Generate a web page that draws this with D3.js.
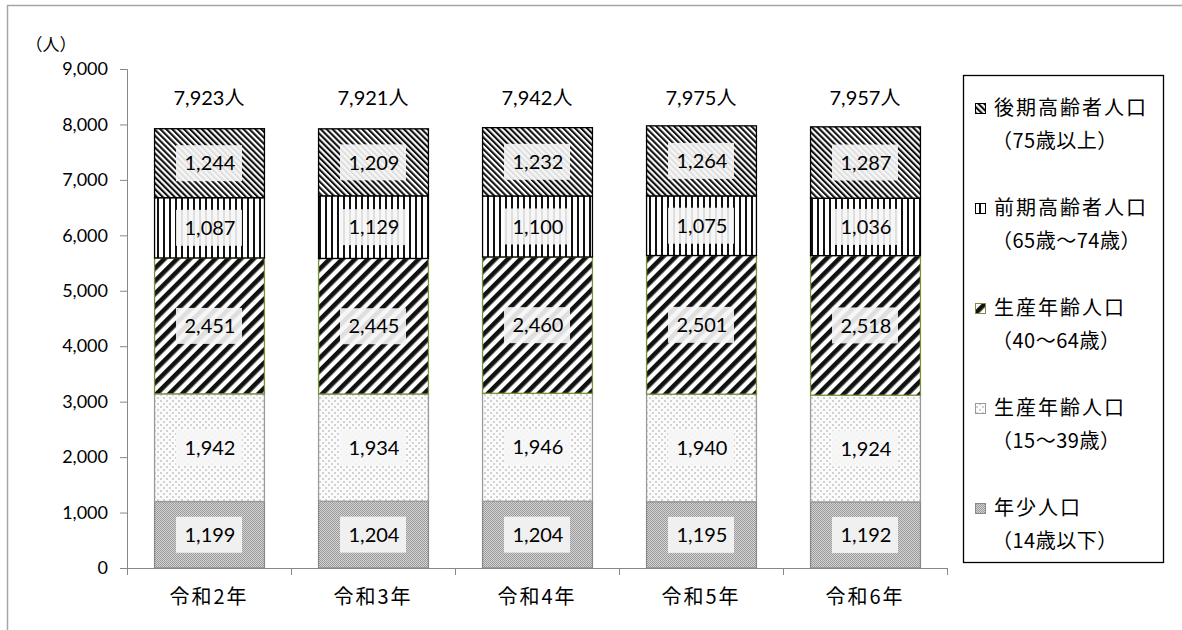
<!DOCTYPE html>
<html><head><meta charset="utf-8">
<script src="https://cdn.jsdelivr.net/npm/d3@7"></script>
<style>
body{margin:0;background:#fff;}
svg{display:block;}
</style></head>
<body><svg id="c" width="1182" height="630"></svg>
<script>
const categories = ["令和2年","令和3年","令和4年","令和5年","令和6年"];
const seriesKeys = ["age14","age15_39","age40_64","age65_74","age75"];
const age14 = [1199,1204,1204,1195,1192];
const age15_39 = [1942,1934,1946,1940,1924];
const age40_64 = [2451,2445,2460,2501,2518];
const age65_74 = [1087,1129,1100,1075,1036];
const age75 = [1244,1209,1232,1264,1287];
const totals = [7923,7921,7942,7975,7957];
const yTicks = [0,1000,2000,3000,4000,5000,6000,7000,8000,9000];
const legendLines = [
  ["後期高齢者人口","（75歳以上）"],
  ["前期高齢者人口","（65歳～74歳）"],
  ["生産年齢人口","（40～64歳）"],
  ["生産年齢人口","（15～39歳）"],
  ["年少人口","（14歳以下）"]
];
const values = {age14, age15_39, age40_64, age65_74, age75};

const NUMF = "Lato,'Noto Sans CJK JP',sans-serif";
const JPF = "'Noto Sans CJK JP',sans-serif";

const svg = d3.select("#c");
const defs = svg.append("defs");
let p = defs.append("pattern").attr("id","pat75").attr("patternUnits","userSpaceOnUse")
  .attr("width",4.2).attr("height",4.2).attr("patternTransform","rotate(-45)");
p.append("rect").attr("width",4.2).attr("height",4.2).attr("fill","#fff");
p.append("rect").attr("width",2.1).attr("height",4.2).attr("fill","#111");

p = defs.append("pattern").attr("id","pat65").attr("patternUnits","userSpaceOnUse")
  .attr("width",6).attr("height",6);
p.append("rect").attr("width",6).attr("height",6).attr("fill","#fff");
p.append("rect").attr("x",1).attr("width",2).attr("height",6).attr("fill","#111");

p = defs.append("pattern").attr("id","pat40").attr("patternUnits","userSpaceOnUse")
  .attr("width",9).attr("height",9).attr("patternTransform","rotate(45)");
p.append("rect").attr("width",9).attr("height",9).attr("fill","#fff");
p.append("rect").attr("width",4.6).attr("height",9).attr("fill","#111");

p = defs.append("pattern").attr("id","pat15").attr("patternUnits","userSpaceOnUse")
  .attr("width",6).attr("height",6);
p.append("rect").attr("width",6).attr("height",6).attr("fill","#fbfbfb");
p.append("rect").attr("x",1).attr("y",1).attr("width",2).attr("height",2).attr("fill","#d2d2d2");
p.append("rect").attr("x",4).attr("y",4).attr("width",2).attr("height",2).attr("fill","#d2d2d2");

p = defs.append("pattern").attr("id","pat14").attr("patternUnits","userSpaceOnUse")
  .attr("width",2).attr("height",2);
p.append("rect").attr("width",2).attr("height",2).attr("fill","#d4d4d4");
p.append("rect").attr("width",1).attr("height",1).attr("fill","#9a9a9a");
p.append("rect").attr("x",1).attr("y",1).attr("width",1).attr("height",1).attr("fill","#9a9a9a");

const styles = {
  age75:{fill:"url(#pat75)",stroke:"#000"},
  age65_74:{fill:"url(#pat65)",stroke:"#000"},
  age40_64:{fill:"url(#pat40)",stroke:"#77933c"},
  age15_39:{fill:"url(#pat15)",stroke:"#9a9a9a"},
  age14:{fill:"url(#pat14)",stroke:"#8a8a8a"}
};

svg.append("path").attr("d","M7.5,630 L7.5,5.5 L1182,5.5").attr("fill","none")
  .attr("stroke","#a6a6a6").attr("stroke-width",1.5);

const x = d3.scaleBand().domain(categories).range([127,947]).paddingInner(0.33).paddingOuter(0.165);
const y = d3.scaleLinear().domain([0,9000]).range([568,69]);

const ya = svg.append("g").attr("transform","translate(127,0)")
  .call(d3.axisLeft(y).tickValues(yTicks).tickSize(7).tickPadding(12).tickFormat(d3.format(",")));
ya.select(".domain").attr("stroke","#888").attr("d","M-7,69.5H0.5V568");
ya.selectAll(".tick line").attr("stroke","#888");
ya.selectAll(".tick text").attr("font-size",18).attr("font-family",NUMF).attr("fill","#000");

svg.append("text").attr("x",51).attr("y",51).attr("text-anchor","middle")
  .attr("font-size",17).attr("font-family",JPF).text("（人）");

const rows = categories.map((c,i)=>{const r={cat:c}; seriesKeys.forEach(k=>r[k]=values[k][i]); return r;});
const stack = d3.stack().keys(seriesKeys)(rows);

const bars = svg.append("g");
stack.forEach(layer=>{
  const st = styles[layer.key];
  bars.selectAll(null).data(layer).join("rect")
    .attr("x",d=>x(d.data.cat)+0.5).attr("width",x.bandwidth())
    .attr("y",d=>y(d[1])).attr("height",d=>y(d[0])-y(d[1]))
    .attr("fill",st.fill).attr("stroke",st.stroke).attr("stroke-width",1.3);
});
stack.forEach(layer=>{
  layer.forEach(d=>{
    const cx = x(d.data.cat)+x.bandwidth()/2;
    const cy = (y(d[0])+y(d[1]))/2;
    bars.append("rect").attr("x",cx-33).attr("y",cy-18).attr("width",66).attr("height",36)
      .attr("fill","#f6f6f6").attr("fill-opacity",0.9);
    bars.append("text").attr("x",cx+1).attr("y",cy).attr("dy","0.36em").attr("text-anchor","middle")
      .attr("font-size",20).attr("font-family",NUMF).text(d3.format(",")(d[1]-d[0]));
  });
});

const xa = svg.append("g").attr("transform","translate(0,568)")
  .call(d3.axisBottom(x).tickSize(0).tickPadding(22));
xa.select(".domain").attr("stroke","#888").attr("d","M127,0.5H947");
xa.selectAll(".tick text").attr("font-size",20).attr("letter-spacing",2).attr("font-family",JPF).attr("fill","#000");
const bounds = categories.map(c=>x(c)-x.step()*x.paddingInner()/2).concat([947]);
xa.selectAll(".bt").data(bounds).join("line").attr("class","bt")
  .attr("x1",d=>Math.round(d)+0.5).attr("x2",d=>Math.round(d)+0.5).attr("y1",0).attr("y2",7).attr("stroke","#888");

svg.append("g").selectAll("text").data(totals).join("text")
  .attr("x",(d,i)=>x(categories[i])+x.bandwidth()/2)
  .attr("y",98).attr("dy","0.36em").attr("text-anchor","middle").attr("font-size",20)
  .attr("font-family",NUMF)
  .text(d=>d3.format(",")(d)+"人");

const lg = svg.append("g");
lg.append("rect").attr("x",963.5).attr("y",75.5).attr("width",200).attr("height",487)
  .attr("fill","#fff").attr("stroke","#000").attr("stroke-width",1.3);
const legKeys = ["age75","age65_74","age40_64","age15_39","age14"];
legKeys.forEach((k,i)=>{
  const ty = 108 + i*100;
  lg.append("rect").attr("x",975.5).attr("y",ty-4.5).attr("width",10).attr("height",10)
    .attr("fill",styles[k].fill).attr("stroke",styles[k].stroke).attr("stroke-width",1);
  lg.append("text").attr("x",994).attr("y",ty).attr("dy","0.36em").attr("font-size",20)
    .attr("letter-spacing",2).attr("font-family",JPF).text(legendLines[i][0]);
  lg.append("text").attr("x",992).attr("y",ty+33).attr("dy","0.36em").attr("font-size",20)
    .attr("letter-spacing",0.5).attr("font-family",JPF).text(legendLines[i][1]);
});
</script></body></html>
